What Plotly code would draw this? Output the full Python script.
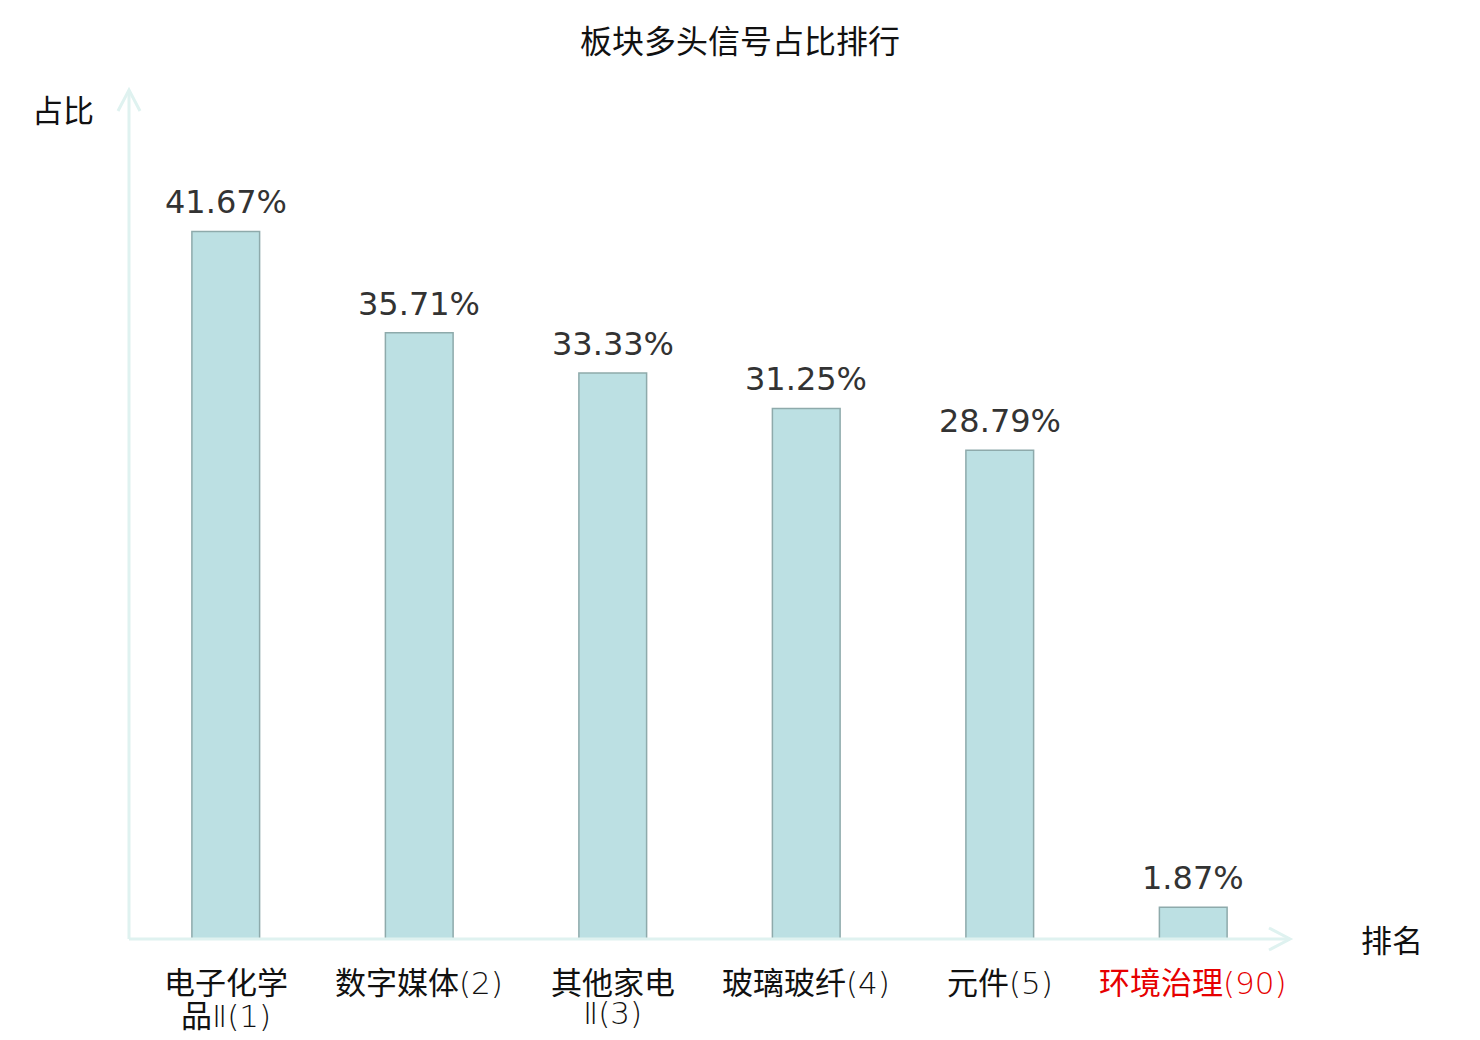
import re
import plotly.graph_objects as go

names = ["电子化学|品Ⅱ", "数字媒体", "其他家电|Ⅱ", "玻璃玻纤", "元件", "环境治理"]
ranks = [1, 2, 3, 4, 5, 90]
values = [41.67, 35.71, 33.33, 31.25, 28.79, 1.87]
highlight = [False, False, False, False, False, True]
title_text = "板块多头信号占比排行"
y_name = "占比"
x_name = "排名"

AXIS_COLOR = "#dff2f0"
BAR_FILL = "#bce0e3"
BAR_LINE = "#8eaaab"
CJK = "Noto Sans CJK SC"
NUM = "DejaVu Sans, Noto Sans CJK SC"
FS = 32

# page body has an 8px margin: the figure is sized/offset to compensate
OFF = 8
W, H = 1480 - OFF, 1040 - OFF

LIGHT = "font-family:'DejaVu Sans ExtraLight','DejaVu Sans';font-weight:200"


def lighten(s):
    return re.sub(r"([Ⅱ()0-9]+)", lambda m: f'<span style="{LIGHT}">{m.group(1)}</span>', s)


xs = list(range(len(names)))

fig = go.Figure()
fig.add_trace(go.Bar(
    x=xs, y=values, width=0.35,
    marker=dict(color=BAR_FILL, line=dict(color=BAR_LINE, width=1.5)),
    hoverinfo="skip",
))

for x, v in zip(xs, values):
    fig.add_annotation(x=x, y=v, text=f"{v:.2f}%", showarrow=False,
                       xanchor="center", yanchor="bottom", yshift=8,
                       font=dict(family=NUM, size=FS, color="#333333"))

# category labels (tight two-line wrapping like the reference)
for x, n, r, h in zip(xs, names, ranks, highlight):
    lines = f"{n}({r})".split("|")
    for k, ln in enumerate(lines):
        t = lighten(ln)
        fig.add_annotation(x=x, y=0, yref="paper", text=t, showarrow=False,
                           xanchor="center", yanchor="middle", yshift=-41 - 33 * k,
                           font=dict(family=CJK, size=FS - 1,
                                     color="#e60000" if h else "#111111"))

fig.update_layout(
    width=W, height=H,
    margin=dict(l=129 - OFF, r=190, t=90 - OFF, b=101, autoexpand=False),
    plot_bgcolor="white", paper_bgcolor="white",
    showlegend=False,
    title=dict(text=title_text, x=(740 - OFF) / W, xref="container", xanchor="center",
               y=1 - (42 - OFF) / H, yref="container", yanchor="middle",
               font=dict(family=CJK, size=FS, color="#111111")),
    xaxis=dict(range=[-0.5, len(names) - 0.5], showticklabels=False,
               showgrid=False, zeroline=False, showline=False, automargin=False,
               ticks="", fixedrange=True),
    yaxis=dict(range=[0, 50], showgrid=False, zeroline=False, showline=False, automargin=False,
               showticklabels=False, ticks="", fixedrange=True),
)

# axis lines with arrowheads
fig.add_shape(type="line", xref="paper", yref="paper", x0=0, x1=0, y0=0, y1=1,
              line=dict(color=AXIS_COLOR, width=3))
fig.add_shape(type="line", xref="paper", yref="paper", x0=0, x1=1, y0=0, y1=0,
              line=dict(color=AXIS_COLOR, width=3))
fig.add_shape(type="path", xref="paper", yref="paper", xsizemode="pixel", ysizemode="pixel",
              xanchor=1, yanchor=0, path="M-21,-11 L0,0 L-21,11",
              line=dict(color=AXIS_COLOR, width=3))
fig.add_shape(type="path", xref="paper", yref="paper", xsizemode="pixel", ysizemode="pixel",
              xanchor=0, yanchor=1, path="M-11,-21 L0,0 L11,-21",
              line=dict(color=AXIS_COLOR, width=3))

fig.add_annotation(text=y_name, xref="paper", yref="paper", x=0, y=1, xshift=-66, yshift=-18,
                   showarrow=False, xanchor="center", yanchor="middle",
                   font=dict(family=CJK, size=FS - 1, color="#111111"))
fig.add_annotation(text=x_name, xref="paper", yref="paper", x=1, y=0, xshift=102, yshift=1,
                   showarrow=False, xanchor="center", yanchor="middle",
                   font=dict(family=CJK, size=FS - 1, color="#111111"))

fig.write_html("out.html")
